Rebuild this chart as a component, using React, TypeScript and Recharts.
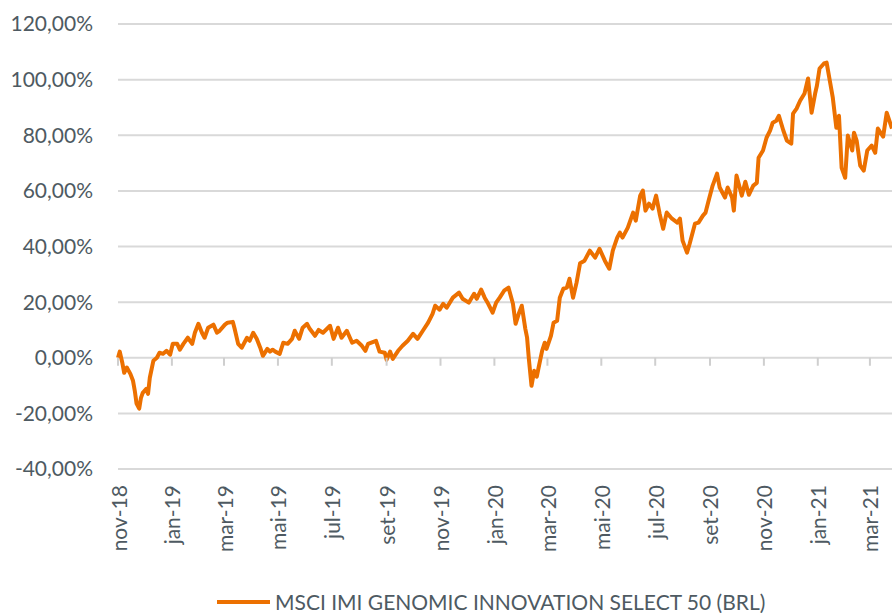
import React from "react";
import {
  ComposedChart,
  Line,
  XAxis,
  YAxis,
  CartesianGrid,
  Legend,
} from "recharts";

// days since 2018-11-01
const dayOffsets = [
  0, 2, 5, 7, 10, 14, 17, 19, 21, 24, 26, 28, 32, 34, 36, 40, 44, 47, 51, 55,
  59, 62, 67, 70, 74, 79, 84, 87, 91, 95, 98, 102, 108, 112, 115, 121, 124, 130, 132, 136,
  140, 146, 149, 153, 157, 161, 164, 169, 172, 175, 178, 183, 187, 192, 197, 200, 205, 209, 214, 217,
  223, 227, 232, 240, 244, 249, 253, 259, 265, 270, 276, 280, 283, 292, 296, 302, 304, 308, 311, 317,
  322, 328, 334, 339, 345, 351, 356, 359, 364, 368, 372, 379, 386, 390, 397, 403, 406, 411, 415, 419,
  424, 428, 432, 437, 442, 447, 450, 454, 457, 461, 463, 465, 468, 471, 474, 476, 480, 483, 485, 490,
  493, 497, 500, 504, 508, 511, 515, 519, 523, 528, 534, 540, 545, 551, 556, 560, 565, 568, 571, 577,
  583, 586, 591, 594, 597, 601, 605, 609, 613, 617, 621, 627, 633, 636, 639, 644, 647, 653, 657, 662,
  665, 669, 673, 678, 681, 687, 690, 695, 697, 700, 706, 710, 714, 719, 723, 725, 730, 734, 738, 741,
  745, 748, 753, 757, 762, 764, 768, 772, 777, 781, 785, 789, 791, 794, 799, 802, 806, 809, 813, 816,
  819, 823, 826, 831, 833, 836, 840, 844, 848, 853, 857, 860, 866, 870, 876,
];

const returns = [
  0, 2.2, -2, -5.4, -3.5, -5.8, -8.3, -11.9, -16.5, -18.3, -14.4, -12.6, -11.2, -13, -7.2, -1.1, 0, 1.8, 1.4, 2.5,
  1.1, 5, 5, 2.9, 5, 7.2, 5, 9, 12.2, 9, 7.2, 10.8, 11.9, 9, 9.7, 11.9, 12.6, 12.9, 10.4, 5,
  3.6, 7.2, 6.1, 9, 6.8, 3.6, 0.7, 3.2, 2.2, 2.9, 2.2, 1.4, 5.4, 5, 6.8, 9.7, 6.8, 10.8, 12.2, 10.4,
  7.9, 10, 9, 11.5, 6.8, 10.8, 7.2, 9.7, 5.4, 6.1, 4.3, 2.5, 5, 6.1, 2.2, 1.8, -0.7, 2.2, -0.4, 2.5,
  4.3, 6.1, 8.6, 6.8, 9.7, 12.6, 15.8, 18.7, 17.3, 19.4, 18, 21.6, 23.4, 21.2, 19.8, 23, 21.2, 24.5, 21.6, 19.4,
  16.2, 19.8, 21.6, 24.1, 25.2, 19.4, 12.2, 16.2, 18.7, 10.4, 7.2, -0.4, -10.1, -4.7, -6.8, -3.6, 2.5, 5.4, 3.2, 7.9,
  12.6, 13.3, 21.6, 24.8, 25.2, 28.4, 21.6, 27, 34, 34.9, 38.5, 36, 39.2, 34.9, 32, 38.5, 43.2, 45, 43.2, 46.8,
  52.2, 49.3, 58.3, 60.1, 52.9, 55.4, 53.6, 58.3, 51.8, 46.4, 52.2, 50, 48.6, 50, 42.1, 37.8, 41, 48.2, 48.6, 51.1,
  52.2, 57.2, 61.9, 66.2, 61.2, 57.6, 61.2, 57.6, 52.9, 65.5, 58.3, 63.3, 58.6, 61.9, 62.9, 71.9, 74.5, 79.1, 81.7, 84.5,
  85.2, 87, 81.7, 78.1, 77, 87.8, 89.6, 92.4, 95, 100.4, 88.1, 95, 97.8, 104, 105.8, 106.1, 98.9, 93.5, 82.7, 87,
  68.3, 64.7, 79.9, 74.5, 80.9, 78.1, 69.1, 67.3, 74.5, 76.3, 73.7, 82.4, 79.5, 88.1, 82.4,
];

const tickDays = [0, 61, 120, 181, 242, 304, 365, 426, 486, 547, 608, 670, 731, 792, 851];
const tickLabels = [
  "nov-18", "jan-19", "mar-19", "mai-19", "jul-19", "set-19", "nov-19", "jan-20",
  "mar-20", "mai-20", "jul-20", "set-20", "nov-20", "jan-21", "mar-21",
];
const yTicks = [-40, -20, 0, 20, 40, 60, 80, 100, 120];
const seriesName = "MSCI IMI GENOMIC INNOVATION SELECT 50 (BRL)";

const data = dayOffsets.map((d, i) => ({ d, v: returns[i] }));
// the category axis crosses at 0%, so its tick marks hang from the zero line
const zeroTicks = tickDays.map((d) => ({ d, z: 0 }));

const ORANGE = "#ec7000";
const TEXT = "#4e5a62";
const GRID = "#d9d9d9";
const FONT = "Lato, 'Open Sans', sans-serif";

const MonthTick = (props: any) => {
  const { x, y, payload } = props;
  const idx = tickDays.indexOf(payload.value);
  return (
    <text
      x={x}
      y={y}
      transform={`rotate(-90 ${x} ${y})`}
      textAnchor="end"
      dominantBaseline="central"
      fill={TEXT}
      fontSize={21}
      fontFamily={FONT}
    >
      {tickLabels[idx]}
    </text>
  );
};

const ZeroTick = (props: any) => {
  const { cx, cy, index } = props;
  if (cx == null || cy == null) return <g key={index} />;
  return (
    <line key={index} x1={cx} x2={cx} y1={cy} y2={cy + 8} stroke="#cfcfcf" strokeWidth={2} />
  );
};

const renderLegend = () => (
  <div
    style={{
      display: "flex",
      alignItems: "center",
      paddingLeft: 216,
      fontFamily: FONT,
      fontSize: 21,
      color: TEXT,
      whiteSpace: "nowrap",
    }}
  >
    <span
      style={{ display: "inline-block", width: 53, height: 4, background: ORANGE, marginRight: 5 }}
    />
    <span>{seriesName}</span>
  </div>
);

export default function App() {
  return (
    <div style={{ position: "absolute", left: 0, top: 0 }}>
      <ComposedChart
        width={892}
        height={613}
        data={data}
        margin={{ top: 24, right: 0, bottom: 0, left: 0 }}
      >
        <CartesianGrid horizontal vertical={false} stroke={GRID} strokeWidth={2} />
        <XAxis
          dataKey="d"
          type="number"
          domain={[0, 876]}
          ticks={tickDays}
          interval={0}
          axisLine={false}
          tickLine={false}
          tickSize={0}
          tickMargin={16}
          height={144}
          tick={<MonthTick />}
        />
        <YAxis
          domain={[-40, 120]}
          ticks={yTicks}
          interval={0}
          width={118}
          axisLine={false}
          tickLine={false}
          tickSize={0}
          tickMargin={25}
          tick={{ fill: TEXT, fontSize: 21, fontFamily: FONT }}
          tickFormatter={(v: number) => `${v.toFixed(2).replace(".", ",")}%`}
        />
        <Line
          data={zeroTicks}
          dataKey="z"
          stroke="none"
          dot={ZeroTick}
          activeDot={false}
          legendType="none"
          isAnimationActive={false}
        />
        <Line
          type="linear"
          dataKey="v"
          name={seriesName}
          stroke={ORANGE}
          strokeWidth={4}
          strokeLinejoin="round"
          dot={false}
          isAnimationActive={false}
        />
        <Legend
          layout="horizontal"
          verticalAlign="middle"
          align="center"
          wrapperStyle={{ top: 589, left: 1, width: 891 }}
          content={renderLegend}
        />
      </ComposedChart>
    </div>
  );
}
